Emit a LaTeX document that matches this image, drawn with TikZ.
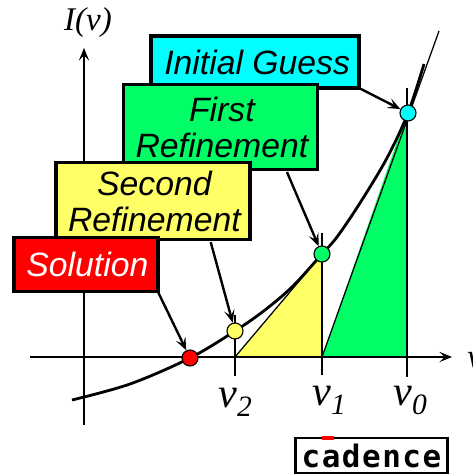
\documentclass[tikz,border=0pt]{standalone}
\usepackage{fontspec}
\setmainfont{Liberation Sans}
\newfontfamily\timesit[Script=Latin]{Liberation Serif}
\newfontfamily\logofont[LetterSpace=5]{DejaVu Sans Mono}
\usetikzlibrary{arrows.meta,calc}
\newcommand{\vsym}[1]{{\timesit\itshape\fontsize{30}{30}\selectfont v\raisebox{-7pt}{\fontsize{21}{21}\selectfont #1}}}
\definecolor{boxcyan}{HTML}{00FFFF}
\definecolor{boxgreen}{HTML}{00FF66}
\definecolor{boxyellow}{HTML}{FFFF66}
\definecolor{boxred}{HTML}{FF0000}

\begin{document}
\begin{tikzpicture}[x=0.025cm,y=-0.025cm,
  blk/.style={draw, line width=2.2pt, outer sep=0pt, inner sep=0pt, align=center, font=\fontsize{24}{25.6}\selectfont\itshape},
  pt/.style={circle, draw, line width=0.8pt, minimum size=0.4cm, inner sep=0pt},
  callout/.style={->, line width=1.7pt},
  axis/.style={->, line width=0.9pt},
  tick/.style={line width=0.9pt},
  sym/.style={inner sep=0pt, anchor=base west},
  >={Stealth[length=3.2mm, width=2.6mm, inset=1.4mm]}]
\useasboundingbox (0,0) rectangle (473,474);
% axes and ticks
\coordinate (xa) at (30,357);
\coordinate (xb) at (452,357);
\coordinate (ya) at (84,425);
\coordinate (yb) at (84,48);
% triangles
\coordinate (t2) at (235,357);
\coordinate (t1) at (322,357);
\coordinate (t0) at (407,357);
\coordinate (h2) at (235,315);
\coordinate (h1) at (322,233);
\coordinate (h0) at (407,88);
\coordinate (l2) at (235,376);
\coordinate (l1) at (322,375);
\coordinate (l0) at (407,377);
\coordinate (top) at (439,31);
\coordinate (s1) at (322,254);
\coordinate (s0) at (407,113);
\fill[boxyellow] (t2) -- (t1) -- (s1) -- cycle;
\fill[boxgreen] (t1) -- (t0) -- (s0) -- cycle;
\draw[tick] (t2) -- (s1);
\draw[tick] (t1) -- (top);
\foreach \n in {2,1,0} \draw[tick] (h\n) -- (l\n);
\draw[axis] (xa) -- (xb);
\draw[axis] (ya) -- (yb);
% curve
\draw[line width=2pt] plot[smooth, tension=0.55] coordinates {(72,400) (130,384) (190,358) (235,331) (265,310) (293,286) (322,254) (337,237) (360,203) (387,158) (408,113) (424,64)};
% points on the curve
\node[pt, fill=boxred] (p3) at (190,358) {};
\node[pt, fill=boxyellow] (p2) at (235,331) {};
\node[pt, fill=boxgreen] (p1) at (322,254) {};
\node[pt, fill=boxcyan] (p0) at (408,113) {};
% boxes
\node[blk, fill=boxcyan, minimum width=5.2cm, minimum height=1.3cm] (guess) at (255,62) {\hspace*{3pt}Initial Guess};
\node[blk, fill=boxgreen, minimum width=4.85cm, minimum height=2.12cm] (first) at (220.5,127) {\hspace*{2pt}First\\\hspace*{2pt}Refinement};
\node[blk, fill=boxyellow, minimum width=4.85cm, minimum height=1.92cm] (second) at (153,201) {\hspace*{2pt}Second\\\hspace*{2pt}Refinement};
\node[blk, fill=boxred, text=white, minimum width=3.6cm, minimum height=1.37cm] (sol) at (86,264.5) {\hspace*{2pt}Solution};
\draw[callout] (guess.south east) -- (p0);
\draw[callout, shorten <=2pt] (first.-33) -- (p1);
\draw[callout, shorten <=2pt] (second.-34) -- (p2);
\draw[callout] (sol.south east) -- (p3);
% labels
\node[inner sep=0pt, font=\timesit\itshape\fontsize{23.5}{25}\selectfont] (ylab) at (88,23) {I(v)};
\node[sym, font=\timesit\itshape\fontsize{23.5}{25}\selectfont] (xlab) at (467,367) {v};
\node[sym] (v2) at (218,407) {\vsym{2}};
\node[sym] (v1) at (312,405) {\vsym{1}};
\node[sym] (v0) at (393,405) {\vsym{0}};
% logo
\node[draw, line width=1.7pt, inner sep=0pt, minimum width=3.8cm, minimum height=0.87cm, font=\logofont\bfseries\fontsize{22}{22}\selectfont] (logo) at (371.5,455.5) {cadence};
\fill[boxred] ($(logo.north west)+(28,-1)$) rectangle ($(logo.north west)+(40,3)$);
\end{tikzpicture}
\end{document}
